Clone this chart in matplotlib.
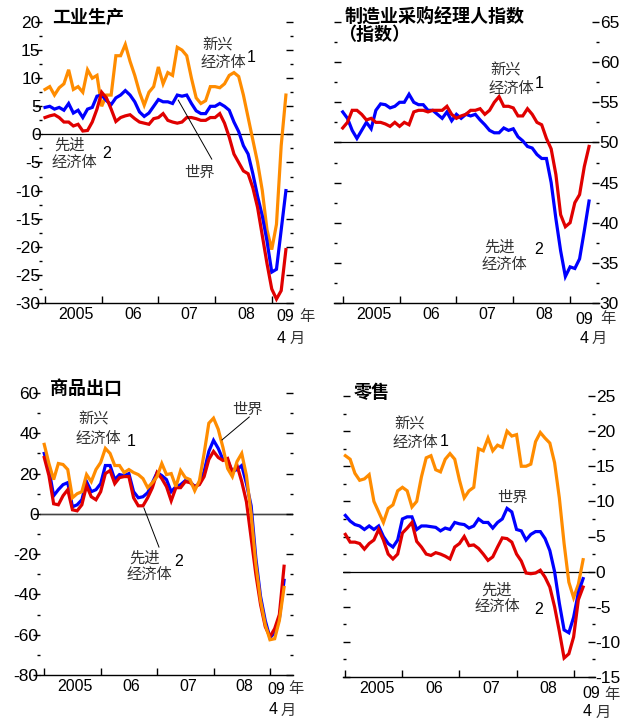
import numpy as np
import matplotlib
matplotlib.use("Agg")
import matplotlib.pyplot as plt

W, H = 624, 719
ORANGE = "#FF8C00"
BLUE = "#0000FF"
RED = "#E00000"
NUM_FONT = ["Liberation Sans", "DejaVu Sans"]
CJK_FONT = ["Noto Sans CJK SC", "DejaVu Sans"]

plt.rcParams["axes.unicode_minus"] = False
plt.rcParams["font.family"] = NUM_FONT

# ---- data (monthly, Jan 2005 onward) ----
# industrial production
ip_emerging = [8, 8.5, 7, 8.3, 9, 11.5, 8, 8.5, 7.5, 11.5, 10, 10.5,
               5, 7, 7, 14, 14, 16, 13, 10.5, 7.5, 5.2, 7.5, 8.5,
               12, 9, 11, 10.5, 15.5, 15, 14, 10, 6.5, 5.5, 6, 8.5,
               8.5, 8.3, 9, 10.5, 11, 10.3, 7, 3, -1, -5, -10, -17,
               -20.5, -16, -2, 7]
ip_world = [4.8, 5, 4.5, 4.8, 4.3, 5.5, 3.8, 4.3, 3, 4.5, 4.8, 6.8,
            7, 6, 5.3, 6.5, 7, 7.8, 7, 5.8, 4, 3.2, 3.8, 5,
            6.2, 5.8, 5.8, 5.5, 7, 6.8, 7, 5.5, 4.2, 3.7, 3.7, 5,
            5, 5.5, 5, 4.3, 2.2, 0.5, -2, -3.5, -7, -11, -14.5, -19,
            -24.5, -24, -17, -10]
ip_advanced = [3, 3.3, 3.5, 3, 2.2, 2.2, 1.5, 1.8, 0.6, 0.7, 2.2, 4.5,
               7.5, 6.5, 4.5, 2.3, 3, 3.3, 3.5, 2.8, 2.2, 2, 1.8, 2.8,
               3, 3.7, 2.5, 2.2, 2, 2.2, 3, 3, 2.8, 2.5, 2.5, 3,
               3, 3.7, 2, -0.5, -3.5, -5, -6.5, -7, -9.5, -13, -18, -23,
               -27.5, -29.3, -27.8, -20.5]

# manufacturing PMI (to May 2009)
pmi_advanced = [53.8, 53, 51.5, 50.5, 51.5, 52.5, 51.7, 54, 54.8, 54.7, 54.3, 54.5,
                55, 55, 56, 55, 54.7, 54.7, 54, 54, 53.5, 53, 53.8, 52.7,
                53.5, 53, 53.5, 53.3, 53.5, 52.8, 52.2, 51.5, 51.2, 51.2, 51.8, 51.5,
                51.7, 50.7, 50.2, 49.5, 49.3, 48.5, 48, 48, 45, 40.5, 36.5, 33.3,
                34.5, 34.3, 35.5, 39, 42.7]
pmi_emerging = [51.8, 52.5, 54, 54, 53.5, 52.8, 53, 52.5, 52.5, 52.3, 52, 52.5,
                52, 52.5, 52.2, 53.8, 54, 54, 53.8, 54, 54, 54, 54.5, 53.5,
                53, 53.3, 53.5, 54, 54, 54.2, 53.5, 54, 55, 55.7, 54.5, 54.5,
                54.3, 53.3, 53.3, 54.2, 53.5, 52.5, 52.2, 50.5, 49.2, 46, 41, 39.5,
                40, 42.5, 43.5, 47, 49.5]

# merchandise exports
ex_emerging = [34.5, 25, 17, 25, 24.5, 22, 8, 10, 11, 19.5, 16, 22,
               25.5, 32.5, 30, 24, 24, 20.5, 22, 20.5, 19.5, 17.5, 13, 15.5,
               18.5, 25, 19.5, 20, 13.5, 21.5, 18, 17, 11.5, 16.5, 30, 45,
               47.5, 42, 33, 22.5, 18.5, 26, 30, 19, 0, -25, -43, -55,
               -62.5, -62, -53, -36.5]
ex_world = [30, 22, 9, 12, 14.5, 15.5, 3.5, 4.5, 7, 16, 11, 12,
            15, 24, 24, 17, 19.5, 19, 20, 11, 8, 8.5, 10.5, 15.5,
            20.5, 19, 17, 11, 13.5, 14.5, 16.5, 16, 13.5, 15, 21, 31,
            36.5, 32.5, 27, 26.5, 21, 22, 24, 15, 4, -22, -41, -53,
            -61.5, -59, -52, -33]
ex_advanced = [28, 19, 5, 4.5, 9, 12, 2, 1.5, 4.5, 14, 8.5, 7,
               11, 20, 21.5, 15, 18, 18.5, 18.5, 8, 4, 4, 8, 13,
               20.5, 17.5, 13.5, 6.5, 13, 13, 16, 15.5, 13.5, 14.5, 18.5, 27,
               31, 28, 26.5, 27.5, 20.5, 24, 16, 6, -12, -30, -45, -56,
               -61, -57, -50, -26]

# retail sales (to Mar 2009)
rs_emerging = [16.5, 16, 14, 13, 13.2, 13.8, 10, 8.5, 7, 9, 9.5, 11.5,
               12, 11.5, 9.2, 10, 13.5, 16.2, 16.5, 14.5, 14.2, 16, 16.8, 16,
               13, 10.5, 11.5, 12, 17.5, 17.2, 19, 17.2, 18, 17.7, 20, 19.3,
               19.5, 15, 15, 15.3, 18.5, 19.8, 19, 18.3, 15.5, 10.5, 4, -1.5,
               -3.7, -1.8, 1.7]
rs_world = [8, 7.2, 6.7, 6.5, 6, 6.5, 6, 6.5, 5, 4, 3.5, 4.5,
            7.5, 7.8, 7.8, 6, 6.5, 6.5, 6.4, 6.3, 5.8, 6.2, 6, 7,
            6.8, 6.7, 6.2, 6.5, 7.5, 7, 7, 6.2, 7, 7.5, 9, 8.5,
            6, 5.8, 4.5, 5.3, 5.7, 5.7, 4.7, 3, 0, -4.5, -8.3, -8.7,
            -6.5, -3, -1]
rs_advanced = [5.3, 4.2, 4.2, 4, 3.2, 4, 4.5, 6, 4.5, 2.5, 1.8, 2.5,
               5.5, 6.2, 7, 4.3, 3.5, 2.5, 2.3, 2.7, 2.5, 2.2, 1.8, 3.5,
               4, 5, 3.7, 3.8, 3.3, 2.5, 1.6, 2.1, 3.5, 4.8, 4.7, 4.2,
               2.5, 1.5, -0.2, -0.3, -0.2, 0.2, -0.8, -2.2, -5, -8.5, -12.3, -11.7,
               -9.3, -4, -2.2]

year_labels = ["2005", "06", "07", "08"]

fig = plt.figure(figsize=(W / 100, H / 100), dpi=100)


def px_axes(l, t, r, b):
    return fig.add_axes([l / W, 1 - b / H, (r - l) / W, (b - t) / H])


def ftext(x, y, s, ha="center", **kw):
    fig.text(x / W, 1 - y / H, s, ha=ha, va="center", **kw)


def style_axis(ax, xlim, ylim, major, minor, label_side, left_dir, ref=0):
    ax.set_xlim(*xlim)
    ax.set_ylim(*ylim)
    for s in ["top", "left", "right"]:
        ax.spines[s].set_visible(False)
    ax.spines["bottom"].set_linewidth(1.0)
    ax.patch.set_alpha(0)
    # x axis: year ticks, labels centred in each year
    ax.set_xticks([0, 12, 24, 36, 48])
    ax.set_xticklabels([])
    ax.set_xticks([6.6, 18.6, 30.6, 42.6], minor=True)
    ax.set_xticklabels(year_labels, minor=True, fontsize=11.5, family=NUM_FONT)
    ax.tick_params(axis="x", which="major", direction="in", length=5, width=1)
    ax.tick_params(axis="x", which="minor", length=0, pad=3)
    # y axis
    ticks = np.arange(ylim[0], ylim[1] + 0.01, major)
    ax.set_yticks(ticks)
    ax.set_yticks(np.arange(ylim[0], ylim[1] + 0.01, minor), minor=True)
    ax.set_yticklabels([f"{v:g}" for v in ticks], fontsize=12.5, family=NUM_FONT)
    ax.tick_params(axis="y", which="both", left=True, right=True, width=1)
    ax.tick_params(axis="y", which="major", length=5)
    ax.tick_params(axis="y", which="minor", length=2.5)
    if label_side == "left":
        ax.tick_params(axis="y", labelleft=True, labelright=False, pad=1)
    else:
        ax.tick_params(axis="y", labelleft=False, labelright=True, pad=0.5)
    ax.yaxis.set_tick_params(which="both", direction="in")
    if left_dir == "out":
        for t in ax.yaxis.get_major_ticks() + ax.yaxis.get_minor_ticks():
            t.tick1line.set_marker(matplotlib.lines.TICKLEFT)
    ax.axhline(ref, color="black", lw=0.9, zorder=1)


def plot_series(ax, series, colors):
    for ys, c in zip(series, colors):
        ax.plot(np.arange(len(ys)), ys, color=c, lw=2.3, solid_joinstyle="miter", zorder=3)


gray = "#333333"
note = dict(fontsize=11, family=CJK_FONT, color=gray)
sup = dict(fontsize=11.5, family=NUM_FONT, color="black")
title = dict(fontsize=13, family=CJK_FONT, fontweight="bold", color="black")
unit = dict(fontsize=11, family=CJK_FONT, color=gray)
num = dict(fontsize=11.5, family=NUM_FONT, color="black")


def end_labels(x09, xnian, y1, x4, xyue, y2):
    ftext(x09, y1, "09", **num)
    ftext(xnian, y1, "年", **unit)
    ftext(x4, y2, "4", **num)
    ftext(xyue, y2, "月", **unit)


# ---- panel 1: industrial production ----
ax1 = px_axes(42, 22, 293, 303)
plot_series(ax1, [ip_emerging, ip_world, ip_advanced], [ORANGE, BLUE, RED])
style_axis(ax1, (-0.64, 52.5), (-30, 20), 5, 2.5, "left", "out")
ax1.plot([28.2, 35.3], [6.1, -4.4], color="black", lw=0.7, zorder=4)
ftext(52, 17, "工业生产", ha="left", **title)
ftext(218, 45, "新兴", **note)
ftext(223, 63, "经济体", **note)
ftext(251, 58, "1", **sup)
ftext(70, 145, "先进", **note)
ftext(74, 162, "经济体", **note)
ftext(107, 154, "2", **sup)
ftext(199, 172, "世界", **note)
end_labels(285, 307, 316, 281, 297, 338)

# ---- panel 2: manufacturing PMI ----
ax2 = px_axes(334, 22, 599, 303)
plot_series(ax2, [pmi_advanced, pmi_emerging], [BLUE, RED])
style_axis(ax2, (-1.84, 54.1), (30, 65), 5, 2.5, "right", "in", ref=50)
ftext(345, 16, "制造业采购经理人指数", ha="left", **title)
ftext(338, 35, "（指数）", ha="left", **title)
ftext(506, 70, "新兴", **note)
ftext(511, 88, "经济体", **note)
ftext(539, 83, "1", **sup)
ftext(500, 247, "先进", **note)
ftext(504, 264, "经济体", **note)
ftext(539, 250, "2", **sup)
end_labels(584, 608, 319, 584, 599, 338)

# ---- panel 3: merchandise exports ----
ax3 = px_axes(40, 393, 293, 675)
plot_series(ax3, [ex_world, ex_advanced, ex_emerging], [BLUE, RED, ORANGE])
style_axis(ax3, (-0.9, 52.9), (-80, 60), 20, 10, "left", "out")
ax3.axhline(0, color="#444444", lw=1.0, zorder=1)
ax3.plot([43.6, 37.8], [48.1, 36.7], color="black", lw=0.7, zorder=4)
ax3.plot([21.2, 24.4], [2.9, -16.5], color="black", lw=0.7, zorder=4)
ftext(50, 388, "商品出口", ha="left", **title)
ftext(247, 409, "世界", **note)
ftext(94, 419, "新兴", **note)
ftext(98, 438, "经济体", **note)
ftext(131, 442, "1", **sup)
ftext(145, 558, "先进", **note)
ftext(149, 574, "经济体", **note)
ftext(179, 562, "2", **sup)
end_labels(276, 296, 689, 273, 288, 710)

# ---- panel 4: retail sales ----
ax4 = px_axes(343, 396, 595, 677)
plot_series(ax4, [rs_emerging, rs_world, rs_advanced], [ORANGE, BLUE, RED])
style_axis(ax4, (-0.5, 52.5), (-15, 25), 5, 2.5, "right", "in")
ftext(354, 393, "零售", ha="left", **title)
ftext(410, 424, "新兴", **note)
ftext(415, 442, "经济体", **note)
ftext(444, 441, "1", **sup)
ftext(512, 497, "世界", **note)
ftext(497, 590, "先进", **note)
ftext(497, 607, "经济体", **note)
ftext(539, 609, "2", **sup)
end_labels(591, 612, 694, 587, 603, 712)

fig.savefig("out.png", dpi=100)
